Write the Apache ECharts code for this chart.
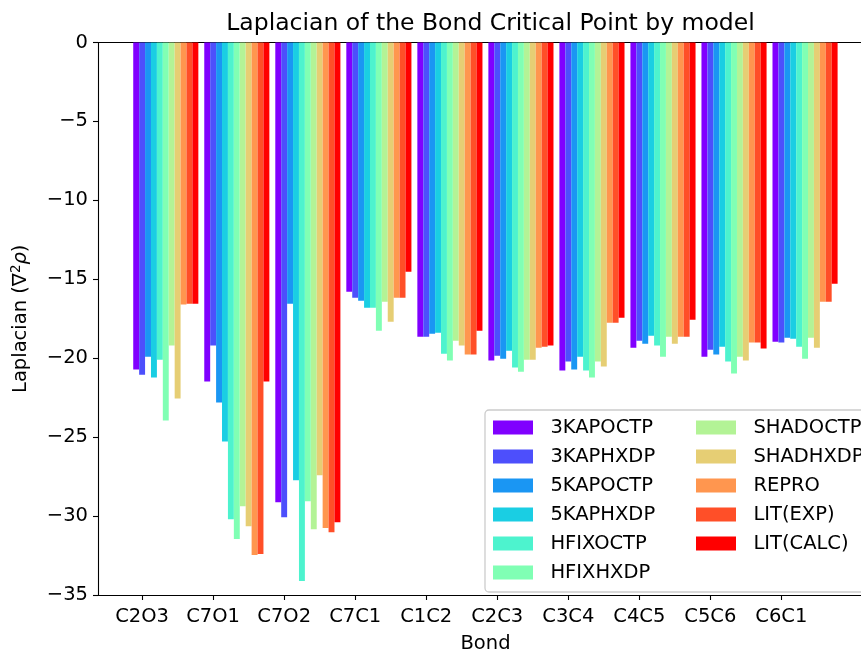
<!DOCTYPE html>
<html>
<head>
<meta charset="utf-8">
<script src="https://cdn.jsdelivr.net/npm/echarts@6/dist/echarts.min.js"></script>
<style>html,body{margin:0;padding:0;background:#fff;}#c{width:861px;height:653px;}</style>
</head>
<body>
<div id="c"></div>
<script>
const categories = ['C2O3','C7O1','C7O2','C7C1','C1C2','C2C3','C3C4','C4C5','C5C6','C6C1'];
const seriesNames = ['3KAPOCTP','3KAPHXDP','5KAPOCTP','5KAPHXDP','HFIXOCTP','HFIXHXDP','SHADOCTP','SHADHXDP','REPRO','LIT(EXP)','LIT(CALC)'];
const s3KAPOCTP = [-20.72,-21.48,-29.12,-15.79,-18.64,-20.15,-20.78,-19.33,-19.90,-18.95];
const s3KAPHXDP = [-21.04,-19.20,-30.07,-16.17,-18.64,-19.84,-20.21,-18.89,-19.46,-19.01];
const s5KAPOCTP = [-19.90,-22.80,-16.55,-16.36,-18.45,-20.03,-20.72,-19.08,-19.77,-18.70];
const s5KAPHXDP = [-21.22,-25.27,-27.73,-16.80,-18.38,-19.52,-19.90,-18.57,-19.27,-18.76];
const sHFIXOCTP = [-20.09,-30.20,-34.11,-16.80,-19.71,-20.59,-20.78,-19.20,-20.21,-19.27];
const sHFIXHXDP = [-23.94,-31.46,-29.06,-18.26,-20.15,-20.85,-21.22,-19.90,-20.97,-20.03];
const sSHADOCTP = [-19.20,-29.37,-30.83,-16.42,-18.89,-20.09,-20.21,-18.64,-19.90,-18.70];
const sSHADHXDP = [-22.55,-30.64,-27.42,-17.69,-19.20,-20.09,-20.53,-19.08,-20.15,-19.33];
const sREPRO    = [-16.60,-32.47,-30.76,-16.17,-19.77,-19.33,-17.75,-18.64,-19.01,-16.42];
const sLITEXP   = [-16.55,-32.41,-31.02,-16.17,-19.77,-19.27,-17.75,-18.64,-19.01,-16.42];
const sLITCALC  = [-16.55,-21.48,-30.39,-14.53,-18.26,-19.20,-17.44,-17.56,-19.39,-15.29];
const seriesValues = [s3KAPOCTP,s3KAPHXDP,s5KAPOCTP,s5KAPHXDP,sHFIXOCTP,sHFIXHXDP,sSHADOCTP,sSHADHXDP,sREPRO,sLITEXP,sLITCALC];
const yTicks = [-35,-30,-25,-20,-15,-10,-5,0];

const colors = ['#8000ff','#4d4ffc','#1a96f3','#1acee3','#4df3ce','#80ffb4','#b3f396','#e6ce74','#ff964f','#ff4f28','#ff0000'];

// matplotlib layout: bar k of group i centred at i + (k-1)/12, width 1/12
const BAR_W = 1/12;
const GROUP_SHIFT = 4 * BAR_W; // group centre offset from tick
const X_MIN = -0.621, X_MAX = 10.29;

const FONT = 'DejaVu Sans';
const FS = 19.5;
const chart = echarts.init(document.getElementById('c'), null, {renderer:'canvas'});

const series = seriesNames.map((name, k) => ({
  name: name,
  type: 'bar',
  xAxisIndex: 0,
  yAxisIndex: 0,
  barWidth: (BAR_W * 100).toFixed(4) + '%',
  barGap: '0%',
  itemStyle: {color: colors[k]},
  emphasis: {disabled: true},
  animation: false,
  data: seriesValues[k].map((v, i) => [i + GROUP_SHIFT, v])
}));

const legendCommon = {
  orient: 'vertical',
  itemWidth: 40,
  itemHeight: 14,
  itemGap: 8,
  icon: 'rect',
  selectedMode: false,
  formatter: n => '  ' + n,
  textStyle: {fontFamily: FONT, fontSize: FS, color: '#000', lineHeight: 21},
  padding: 0
};

chart.setOption({
  animation: false,
  textStyle: {fontFamily: FONT},
  title: {
    text: 'Laplacian of the Bond Critical Point by model',
    left: 485.5, top: 7, textAlign: 'center',
    textStyle: {fontFamily: FONT, fontSize: 23.5, fontWeight: 'normal', color: '#000'}
  },
  graphic: [{
    type: 'rect', z: 5,
    shape: {x: 485, y: 410, width: 420, height: 182, r: 4},
    style: {fill: 'rgba(255,255,255,0.8)', stroke: '#cccccc', lineWidth: 1.3}
  }],
  legend: [
    Object.assign({}, legendCommon, {data: seriesNames.slice(0, 6), left: 493, top: 417, z: 6}),
    Object.assign({}, legendCommon, {data: seriesNames.slice(6), left: 696, top: 417, z: 6})
  ],
  grid: {left: 98, right: -12, top: 42.5, bottom: 58, containLabel: false, outerBoundsMode: 'none'},
  xAxis: [{
    type: 'value',
    min: X_MIN, max: X_MAX,
    name: 'Bond', nameLocation: 'middle', nameGap: 39,
    nameTextStyle: {fontFamily: FONT, fontSize: FS, color: '#000'},
    splitLine: {show: false},
    axisLine: {show: true, onZero: false, lineStyle: {color: '#000', width: 1.1}},
    axisTick: {show: true, length: 5, lineStyle: {color: '#000', width: 1.1}, customValues: categories.map((c, i) => i)},
    axisLabel: {
      customValues: categories.map((c, i) => i),
      formatter: v => categories[Math.round(v)] || '',
      fontFamily: FONT, fontSize: FS, color: '#000', margin: 12
    }
  }, {
    type: 'value', position: 'top',
    min: X_MIN, max: X_MAX,
    axisLine: {show: true, onZero: false, lineStyle: {color: '#000', width: 1.1}},
    axisTick: {show: false}, axisLabel: {show: false}, splitLine: {show: false}
  }],
  yAxis: [{
    type: 'value',
    min: yTicks[0], max: yTicks[yTicks.length - 1], interval: 5,
    name: '{a|Laplacian (∇}{s|2}{r|ρ}{a|)}',
    nameLocation: 'middle', nameGap: 66, nameRotate: 90,
    nameTextStyle: {
      fontFamily: FONT, fontSize: FS, color: '#000',
      rich: {
        a: {fontFamily: FONT, fontSize: FS, color: '#000'},
        s: {fontFamily: FONT, fontSize: 13.5, color: '#000', verticalAlign: 'bottom', padding: [0,0,9,0]},
        r: {fontFamily: FONT, fontSize: FS, color: '#000', fontStyle: 'italic'}
      }
    },
    splitLine: {show: false},
    axisLine: {show: true, onZero: false, lineStyle: {color: '#000', width: 1.1}},
    axisTick: {show: true, length: 5, lineStyle: {color: '#000', width: 1.1}},
    axisLabel: {
      fontFamily: FONT, fontSize: FS, color: '#000', margin: 10,
      formatter: v => v < 0 ? '\u2212' + Math.abs(v) : String(v)
    }
  }],
  series: series
});
</script>
</body>
</html>
